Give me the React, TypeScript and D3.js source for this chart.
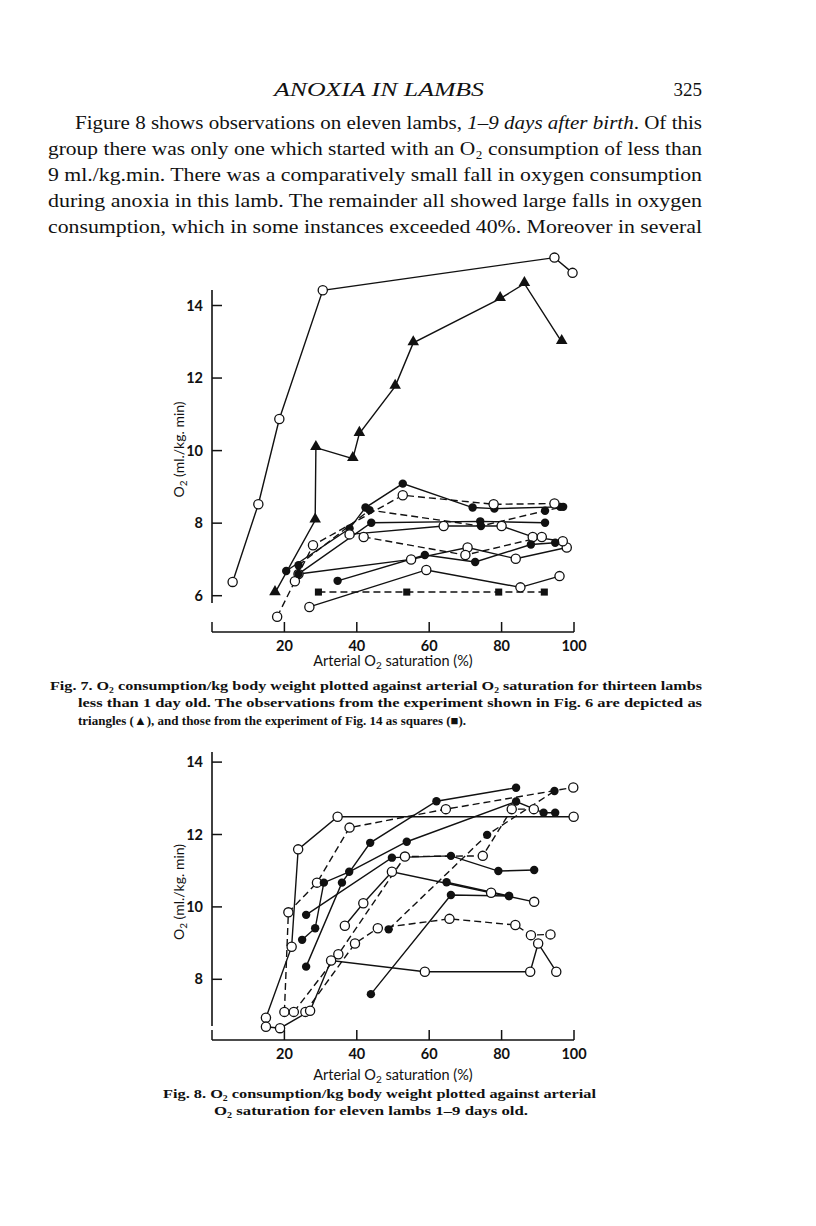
import React from 'react'
import * as d3 from 'd3'

type Pt = [number, number]

// Fig. 7 – lambs less than 1 day old  (x: arterial O2 saturation %, y: O2 ml/kg.min)
const f7OpenTop: Pt[] = [[5.7, 6.38], [12.8, 8.52], [18.6, 10.87], [30.6, 14.42], [94.6, 15.32], [99.6, 14.9]]
const f7Triangles: Pt[] = [[17.4, 6.08], [28.5, 8.08], [28.7, 10.08], [38.9, 9.78], [40.7, 10.47], [50.6, 11.77], [55.6, 12.97], [79.6, 14.19], [86.3, 14.6], [96.6, 13.0]]
const f7Squares: Pt[] = [[29.4, 6.1], [53.8, 6.1], [79.2, 6.1], [91.8, 6.1]]
const f7FilledA: Pt[] = [[20.5, 6.68], [38.0, 7.85], [42.4, 8.43], [52.7, 9.09], [72.0, 8.43], [78.0, 8.4], [96.2, 8.45]]
const f7OpenB: Pt[] = [[18.0, 5.42], [22.9, 6.4], [27.9, 7.39], [52.7, 8.77], [77.8, 8.52], [94.6, 8.54]]
const f7FilledC: Pt[] = [[23.9, 6.84], [43.5, 8.36], [74.3, 7.92], [92.0, 8.34], [97.0, 8.45]]
const f7FilledD: Pt[] = [[23.9, 6.6], [44.0, 8.01], [74.1, 8.05], [92.0, 8.01]]
const f7OpenE: Pt[] = [[38.0, 7.69], [64.0, 7.92], [80.0, 7.92], [88.6, 7.62], [96.9, 7.5]]
const f7OpenF: Pt[] = [[41.9, 7.62], [70.0, 7.12], [91.1, 7.62]]
const f7OpenG: Pt[] = [[23.9, 6.6], [55.0, 7.0], [70.6, 7.33], [83.9, 7.02], [98.0, 7.33]]
const f7OpenH: Pt[] = [[26.9, 5.69], [59.2, 6.71], [85.2, 6.23], [96.0, 6.54]]
const f7FilledI: Pt[] = [[34.7, 6.41], [58.8, 7.12], [72.7, 6.93], [88.1, 7.41], [94.8, 7.46]]

// Fig. 8 – lambs 1-9 days old
const f8OpenA: Pt[] = [[14.9, 6.94], [22.0, 8.9], [23.8, 11.59], [34.7, 12.49], [99.9, 12.49]]
const f8OpenB: Pt[] = [[20.0, 7.1], [21.1, 9.85], [29.0, 10.67], [38.0, 12.19], [64.6, 12.7], [99.8, 13.3]]
const f8FilledC: Pt[] = [[24.9, 9.09], [28.5, 9.41], [30.9, 10.67], [37.9, 10.97], [53.8, 11.8], [84.0, 12.91], [91.6, 12.6], [94.8, 12.6]]
const f8FilledD: Pt[] = [[26.0, 8.35], [35.9, 10.67], [43.7, 11.77], [62.0, 12.92], [84.0, 13.29]]
const f8FilledE: Pt[] = [[26.0, 9.78], [49.7, 11.36], [66.0, 11.41], [79.1, 10.99], [89.0, 11.02]]
const f8OpenF: Pt[] = [[22.6, 7.1], [34.9, 8.69], [53.3, 11.39], [74.8, 11.41], [82.8, 12.7], [88.9, 12.7]]
const f8OpenG: Pt[] = [[36.7, 9.48], [41.8, 10.1], [49.7, 10.97], [77.1, 10.39], [89.0, 10.14]]
const f8FilledG: Pt[] = [[64.8, 10.68], [82.0, 10.3]]
const f8OpenH: Pt[] = [[25.8, 7.1], [39.5, 8.99], [45.8, 9.41], [65.6, 9.67], [83.8, 9.5], [88.1, 9.22], [93.5, 9.24]]
const f8OpenI: Pt[] = [[14.9, 6.69], [18.8, 6.65], [27.1, 7.13], [32.9, 8.52], [58.8, 8.21], [87.9, 8.21], [90.1, 8.99], [95.1, 8.21]]
const f8FilledJ: Pt[] = [[43.9, 7.59], [66.0, 10.33], [82.1, 10.3]]
const f8FilledK: Pt[] = [[48.8, 9.38], [76.0, 11.99], [94.6, 13.2]]

const xTicks = [20, 40, 60, 80, 100]
const f7YTicks = [6, 8, 10, 12, 14]
const f8YTicks = [8, 10, 12, 14]

type Mark = 'open' | 'filled' | 'tri' | 'sq'
interface Series { pts: Pt[]; mark: Mark; dash: boolean }

const fig7: Series[] = [
  { pts: f7OpenTop, mark: 'open', dash: false },
  { pts: f7Triangles, mark: 'tri', dash: false },
  { pts: f7Squares, mark: 'sq', dash: true },
  { pts: f7OpenG, mark: 'open', dash: false },
  { pts: f7FilledA, mark: 'filled', dash: false },
  { pts: f7OpenB, mark: 'open', dash: true },
  { pts: f7FilledC, mark: 'filled', dash: true },
  { pts: f7FilledD, mark: 'filled', dash: false },
  { pts: f7OpenE, mark: 'open', dash: false },
  { pts: f7OpenF, mark: 'open', dash: true },
  { pts: f7OpenH, mark: 'open', dash: false },
  { pts: f7FilledI, mark: 'filled', dash: false },
]

const fig8: Series[] = [
  { pts: f8OpenA, mark: 'open', dash: false },
  { pts: f8OpenB, mark: 'open', dash: true },
  { pts: f8FilledC, mark: 'filled', dash: false },
  { pts: f8FilledD, mark: 'filled', dash: false },
  { pts: f8FilledE, mark: 'filled', dash: false },
  { pts: f8OpenF, mark: 'open', dash: true },
  { pts: f8OpenG, mark: 'open', dash: false },
  { pts: f8FilledG, mark: 'filled', dash: false },
  { pts: f8OpenH, mark: 'open', dash: true },
  { pts: f8OpenI, mark: 'open', dash: false },
  { pts: f8FilledJ, mark: 'filled', dash: false },
  { pts: f8FilledK, mark: 'filled', dash: true },
]

const INK = '#111'
const sans = 'Lato, "Open Sans", sans-serif'
const serif = '"Liberation Serif", "DejaVu Serif", serif'

const triPath = d3.symbol(d3.symbolTriangle, 58)()!
const sqPath = d3.symbol(d3.symbolSquare, 50)()!

interface PanelProps {
  series: Series[]
  yTicks: number[]
  yDomain: [number, number]
  yRange: [number, number]
  axisTop: number
  axisBottom: number
  xAxisY: number
  labelY: number
}

const Panel: React.FC<PanelProps> = ({ series, yTicks, yDomain, yRange, axisTop, axisBottom, xAxisY, labelY }) => {
  const x = d3.scaleLinear().domain([0, 100]).range([212, 574])
  const y = d3.scaleLinear().domain(yDomain).range(yRange)
  const line = d3.line<Pt>().x(d => x(d[0])).y(d => y(d[1]))
  const x0 = x(0)

  return (
    <g>
      {/* y axis */}
      <line x1={x0} x2={x0} y1={axisTop} y2={axisBottom} stroke={INK} strokeWidth={1.6} />
      {yTicks.map(t => (
        <g key={t}>
          <line x1={x0} x2={x0 + 10} y1={y(t)} y2={y(t)} stroke={INK} strokeWidth={1.5} />
          <text x={x0 - 9} y={y(t) + 5} textAnchor="end" fontFamily={sans} fontWeight={700} fontSize={14.5} fill={INK}>{t}</text>
        </g>
      ))}
      <text transform={`translate(184,${(axisTop + axisBottom) / 2 + 3}) rotate(-90)`} textAnchor="middle"
        fontFamily={sans} fontSize={14} fill={INK}>
        O<tspan fontSize={10} dy={3}>2</tspan><tspan dy={-3}> (ml./kg. min)</tspan>
      </text>

      {/* x axis */}
      <line x1={x0} x2={x(100)} y1={xAxisY} y2={xAxisY} stroke={INK} strokeWidth={1.6} />
      <line x1={x0} x2={x0} y1={xAxisY} y2={xAxisY - 10} stroke={INK} strokeWidth={1.5} />
      {xTicks.map(t => (
        <g key={t}>
          <line x1={x(t)} x2={x(t)} y1={xAxisY} y2={xAxisY - 10} stroke={INK} strokeWidth={1.5} />
          <text x={x(t)} y={xAxisY + 19} textAnchor="middle" fontFamily={sans} fontWeight={700} fontSize={14.5} fill={INK}>{t}</text>
        </g>
      ))}
      <text x={393} y={labelY} textAnchor="middle" fontFamily={sans} fontSize={14.5} fill={INK}>
        Arterial O<tspan fontSize={10} dy={3}>2</tspan><tspan dy={-3}> saturation (%)</tspan>
      </text>

      {/* lines */}
      {series.map((s, i) => (
        <path key={'l' + i} d={line(s.pts) || ''} fill="none" stroke={INK} strokeWidth={1.4}
          strokeDasharray={s.dash ? '7,4' : undefined} />
      ))}
      {/* markers */}
      {series.map((s, i) => (
        <g key={'m' + i}>
          {s.pts.map((p, j) => {
            const cx = x(p[0]), cy = y(p[1])
            if (s.mark === 'open') return <circle key={j} cx={cx} cy={cy} r={4.6} fill="#fff" stroke={INK} strokeWidth={1.3} />
            if (s.mark === 'filled') return <circle key={j} cx={cx} cy={cy} r={4.2} fill={INK} />
            if (s.mark === 'tri') return <path key={j} d={triPath} transform={`translate(${cx},${cy - 1})`} fill={INK} />
            return <path key={j} d={sqPath} transform={`translate(${cx},${cy})`} fill={INK} />
          })}
        </g>
      ))}
    </g>
  )
}

export default function App() {
  const bodyLines = [
    { x: 75, w: 627, y: 129 },
    { x: 48, w: 654, y: 155 },
    { x: 48, w: 654, y: 181 },
    { x: 48, w: 654, y: 207 },
    { x: 48, w: 654, y: 233 },
  ]
  return (
    <svg width={816} height={1226} style={{ position: 'absolute', left: 0, top: 0, background: '#fff' }}>
      <rect width={816} height={1226} fill="#fff" />
      <text x={379} y={96} textAnchor="middle" fontFamily={serif} fontStyle="italic" fontSize={19} fill={INK}
        textLength={210} lengthAdjust="spacingAndGlyphs">ANOXIA IN LAMBS</text>
      <text x={702} y={96} textAnchor="end" fontFamily={serif} fontSize={19} fill={INK}>325</text>

      <g fontFamily={serif} fontSize={19} fill={INK}>
        <text x={bodyLines[0].x} y={bodyLines[0].y} textLength={bodyLines[0].w} lengthAdjust="spacingAndGlyphs">
          Figure 8 shows observations on eleven lambs, <tspan fontStyle="italic">1–9 days after birth</tspan>.  Of this
        </text>
        <text x={bodyLines[1].x} y={bodyLines[1].y} textLength={bodyLines[1].w} lengthAdjust="spacingAndGlyphs">
          group there was only one which started with an O₂ consumption of less than
        </text>
        <text x={bodyLines[2].x} y={bodyLines[2].y} textLength={bodyLines[2].w} lengthAdjust="spacingAndGlyphs">
          9 ml./kg.min. There was a comparatively small fall in oxygen consumption
        </text>
        <text x={bodyLines[3].x} y={bodyLines[3].y} textLength={bodyLines[3].w} lengthAdjust="spacingAndGlyphs">
          during anoxia in this lamb. The remainder all showed large falls in oxygen
        </text>
        <text x={bodyLines[4].x} y={bodyLines[4].y} textLength={bodyLines[4].w} lengthAdjust="spacingAndGlyphs">
          consumption, which in some instances exceeded 40%.  Moreover in several
        </text>
      </g>

      <Panel series={fig7} yTicks={f7YTicks} yDomain={[6, 14]} yRange={[595.7, 305.5]}
        axisTop={290} axisBottom={603} xAxisY={632} labelY={666} />

      <g fontFamily={serif} fontSize={13} fontWeight={700} fill={INK}>
        <text x={50} y={690} textLength={652} lengthAdjust="spacingAndGlyphs">
          Fig. 7.  O₂ consumption/kg body weight plotted against arterial O₂ saturation for thirteen lambs
        </text>
        <text x={78} y={707} textLength={624} lengthAdjust="spacingAndGlyphs">
          less than 1 day old. The observations from the experiment shown in Fig. 6 are depicted as
        </text>
        <text x={78} y={725} textLength={388} lengthAdjust="spacingAndGlyphs">
          triangles (▲), and those from the experiment of Fig. 14 as squares (■).
        </text>
      </g>

      <Panel series={fig8} yTicks={f8YTicks} yDomain={[8, 14]} yRange={[979.3, 762.1]}
        axisTop={752} axisBottom={1026} xAxisY={1040} labelY={1080} />

      <g fontFamily={serif} fontSize={13.5} fontWeight={700} fill={INK}>
        <text x={163} y={1098} textLength={433} lengthAdjust="spacingAndGlyphs">
          Fig. 8.  O₂ consumption/kg body weight plotted against arterial
        </text>
        <text x={214} y={1115} textLength={314} lengthAdjust="spacingAndGlyphs">
          O₂ saturation for eleven lambs 1–9 days old.
        </text>
      </g>
    </svg>
  )
}
